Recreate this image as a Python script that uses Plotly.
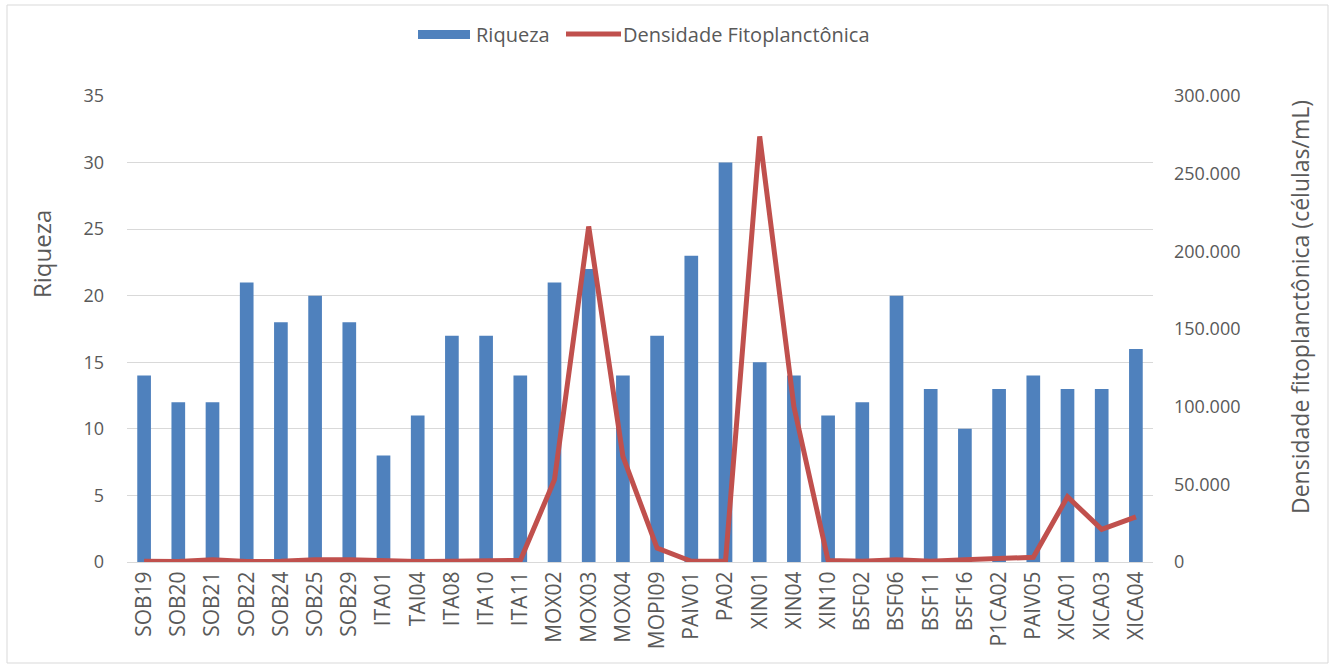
import plotly.graph_objects as go

# Sampling stations
estacoes = ["SOB19", "SOB20", "SOB21", "SOB22", "SOB24", "SOB25", "SOB29",
            "ITA01", "TAI04", "ITA08", "ITA10", "ITA11", "MOX02", "MOX03",
            "MOX04", "MOPI09", "PAIV01", "PA02", "XIN01", "XIN04", "XIN10",
            "BSF02", "BSF06", "BSF11", "BSF16", "P1CA02", "PAIV05", "XICA01",
            "XICA03", "XICA04"]

# Species richness per station
riqueza = [14, 12, 12, 21, 18, 20, 18, 8, 11, 17, 17, 14, 21, 22, 14, 17,
           23, 30, 15, 14, 11, 12, 20, 13, 10, 13, 14, 13, 13, 16]

# Phytoplankton density (cells/mL)
densidade = [500, 300, 1500, 300, 500, 1500, 1500, 500, 300, 500, 500, 1000,
             53000, 216000, 68000, 9000, 500, 500, 274000, 100000, 1000,
             500, 1500, 500, 1500, 2500, 3000, 42000, 21000, 29000]

riqueza_ticks = [0, 5, 10, 15, 20, 25, 30, 35]
densidade_ticks = [0, 50000, 100000, 150000, 200000, 250000, 300000]

AZUL = "#4F81BD"
VERMELHO = "#C0504D"
CINZA = "#595959"
FONTE = "Open Sans"

W, H = 1335, 668
ML, MR, MT, MB = 127, 182, 96, 106
PW, PH = W - ML - MR, H - MT - MB


def px_x(x):
    """Pixel column -> paper x."""
    return (x - ML) / PW


def px_y(y):
    """Pixel row (from top) -> paper y."""
    return (H - MB - y) / PH


fig = go.Figure()
fig.add_trace(go.Bar(x=estacoes, y=riqueza, name="Riqueza",
                     marker=dict(color=AZUL, line=dict(width=0)),
                     yaxis="y", showlegend=False))
fig.add_trace(go.Scatter(x=estacoes, y=densidade, name="Densidade Fitoplanctônica",
                         mode="lines", line=dict(color=VERMELHO, width=5),
                         yaxis="y2", showlegend=False))

fig.update_layout(
    width=W, height=H,
    margin=dict(l=ML, r=MR, t=MT, b=MB, autoexpand=False),
    paper_bgcolor="white", plot_bgcolor="white",
    separators=",.",
    font=dict(family=FONTE, size=16, color=CINZA),
    bargap=0.6,
    xaxis=dict(type="category", tickangle=-90, showgrid=False,
               showline=True, linecolor="#D9D9D9", linewidth=1,
               ticks="", tickfont=dict(size=21, color=CINZA)),
    yaxis=dict(range=[0, 35], tickvals=riqueza_ticks, showgrid=True,
               gridcolor="#D9D9D9", gridwidth=1, zeroline=False, showline=False,
               ticks="", ticklabelstandoff=22, tickfont=dict(size=18)),
    yaxis2=dict(range=[0, 300000], tickvals=densidade_ticks, tickformat=",d",
                overlaying="y", side="right", showgrid=False, zeroline=False,
                showline=False, ticks="", ticklabelstandoff=20, tickfont=dict(size=18)),
)

# Axis titles
fig.add_annotation(xref="paper", yref="paper", x=px_x(42), y=px_y(254),
                   xanchor="center", yanchor="middle", showarrow=False, textangle=-90,
                   text="Riqueza", font=dict(size=24, color=CINZA))
fig.add_annotation(xref="paper", yref="paper", x=px_x(1300), y=px_y(307),
                   xanchor="center", yanchor="middle", showarrow=False, textangle=-90,
                   text="Densidade fitoplanctônica (células/mL)",
                   font=dict(size=23, color=CINZA))

# Legend drawn as key shapes and labels
fig.add_shape(type="rect", xref="paper", yref="paper",
              x0=px_x(418), x1=px_x(470), y0=px_y(39), y1=px_y(30),
              fillcolor=AZUL, line=dict(width=0))
fig.add_annotation(xref="paper", yref="paper", x=px_x(474), y=px_y(34.5),
                   xanchor="left", yanchor="middle", showarrow=False,
                   text="Riqueza", font=dict(size=20, color=CINZA))
fig.add_shape(type="line", xref="paper", yref="paper",
              x0=px_x(566), x1=px_x(621), y0=px_y(34), y1=px_y(34),
              line=dict(color=VERMELHO, width=5))
fig.add_annotation(xref="paper", yref="paper", x=px_x(621), y=px_y(34.5),
                   xanchor="left", yanchor="middle", showarrow=False,
                   text="Densidade Fitoplanctônica", font=dict(size=20, color=CINZA))

# Chart border
fig.add_shape(type="rect", xref="paper", yref="paper",
              x0=px_x(7), x1=px_x(1328), y0=px_y(663), y1=px_y(5),
              line=dict(color="#D9D9D9", width=1), fillcolor="rgba(0,0,0,0)",
              layer="below")

fig.write_html("out.html")
